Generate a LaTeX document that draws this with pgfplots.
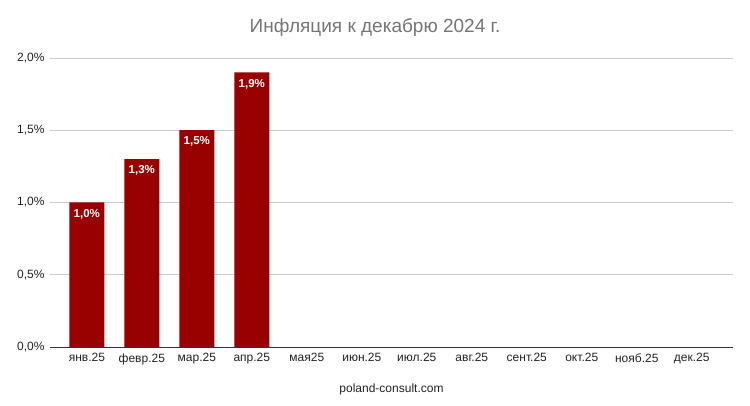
\documentclass[border=0pt]{standalone}
\usepackage{fontspec}
\setmainfont{Liberation Sans}
\usepackage{pgfplots}
\pgfplotsset{compat=1.18}

\definecolor{barred}{HTML}{990000}
\definecolor{gridgray}{HTML}{CCCCCC}
\definecolor{titlegray}{HTML}{757575}
\definecolor{axisdark}{HTML}{333333}
\definecolor{txt}{HTML}{222222}

\begin{document}
\begin{tikzpicture}[x=1pt,y=1pt]
\path[use as bounding box] (0,0) rectangle (750,406);
\begin{axis}[
    at={(50pt,59pt)}, anchor=south west,
    scale only axis,
    width=683pt, height=289pt,
    ymin=0, ymax=2,
    ytick={0.5,1,1.5,2},
    extra y ticks={0},
    extra y tick style={grid style={axisdark, line width=0.8pt}},
    xmin=-0.67, xmax=11.75,
    xtick={0,1,2,3,4,5,6,7,8,9,10,11},
    xticklabels={янв.25,февр.25,мар.25,апр.25,мая25,июн.25,июл.25,авг.25,сент.25,окт.25,нояб.25,дек.25},
    xticklabel style={font=\fontsize{12}{14}\selectfont, text=txt, yshift=-3pt},
    yticklabel style={font=\fontsize{12}{14}\selectfont, text=txt, xshift=-2pt},
    /pgf/number format/assume math mode=true,
    /pgf/number format/.cd, fixed, fixed zerofill, precision=1, use comma, /pgfplots/.cd,
    yticklabel={\pgfmathprintnumber{\tick}\%},
    major tick length=0pt,
    axis line style={draw=none},
    ymajorgrids, grid style={gridgray, line width=0.6pt},
    ybar, bar width=35pt,
    title={Инфляция к декабрю 2024 г.},
    title style={font=\fontsize{19}{22}\selectfont, text=titlegray, at={(0.476,1)}, yshift=12pt},
    xlabel={poland-consult.com},
    xlabel style={font=\fontsize{12}{14}\selectfont, text=txt, yshift=-12pt},
    nodes near coords={\pgfmathprintnumber{\pgfplotspointmeta}\%},
    nodes near coords style={font=\bfseries\fontsize{11.5}{13}\selectfont, text=white, anchor=north, yshift=-3pt},
    clip=false,
]
\addplot[fill=barred, draw=none] coordinates {
    (0,1.0) (1,1.3) (2,1.5) (3,1.9)
};
\end{axis}
\end{tikzpicture}
\end{document}
